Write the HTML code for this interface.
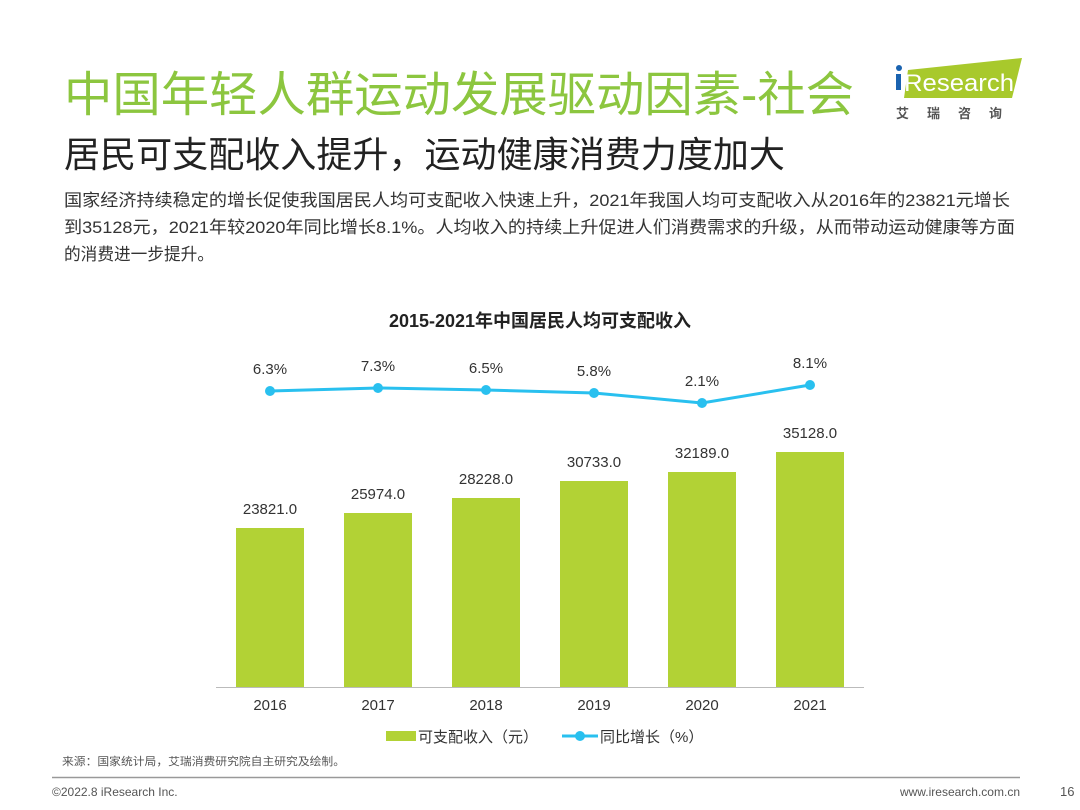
<!DOCTYPE html>
<html><head><meta charset="utf-8"><style>
body{margin:0;width:1080px;height:810px;background:#fff;overflow:hidden;font-family:"Liberation Sans","Noto Sans CJK SC",sans-serif;}
</style></head><body>
<svg width="1080" height="810" xmlns="http://www.w3.org/2000/svg" style="position:absolute;left:0;top:0">
<g font-family="Liberation Sans, Noto Sans CJK SC, sans-serif">
<text x="64" y="111" font-size="48" fill="#8cc63f" textLength="790" lengthAdjust="spacingAndGlyphs">中国年轻人群运动发展驱动因素-社会</text>
<text x="64" y="167" font-size="36" fill="#222" textLength="721" lengthAdjust="spacingAndGlyphs">居民可支配收入提升，运动健康消费力度加大</text>
<text x="64" y="206" font-size="17" fill="#333" textLength="946" lengthAdjust="spacingAndGlyphs">国家经济持续稳定的增长促使我国居民人均可支配收入快速上升，2021年我国人均可支配收入从2016年的23821元增长</text>
<text x="64" y="233" font-size="17" fill="#333" textLength="951" lengthAdjust="spacingAndGlyphs">到35128元，2021年较2020年同比增长8.1%。人均收入的持续上升促进人们消费需求的升级，从而带动运动健康等方面</text>
<text x="64" y="260" font-size="17" fill="#333" textLength="150" lengthAdjust="spacingAndGlyphs">的消费进一步提升。</text>
<polygon points="908,70 1022,58 1012,98 904,98" fill="#a8c92c"/>
<circle cx="899" cy="68" r="3" fill="#1a63b0"/>
<rect x="896" y="74" width="5" height="16" fill="#1a63b0"/>
<text x="904" y="91" font-size="24" fill="#fff" textLength="110" lengthAdjust="spacingAndGlyphs">Research</text>
<text x="896" y="118" font-size="13" fill="#555" letter-spacing="18" font-weight="bold">艾瑞咨询</text>
<text x="540" y="327" font-size="18" font-weight="bold" text-anchor="middle" fill="#222">2015-2021年中国居民人均可支配收入</text>
<g fill="#b2d235">
<rect x="236" y="528" width="68" height="159"/>
<rect x="344" y="513" width="68" height="174"/>
<rect x="452" y="498" width="68" height="189"/>
<rect x="560" y="481" width="68" height="206"/>
<rect x="668" y="472" width="68" height="215"/>
<rect x="776" y="452" width="68" height="235"/>
</g>
<line x1="216" y1="687.5" x2="864" y2="687.5" stroke="#bbb"/>
<g font-size="15" fill="#333" text-anchor="middle">
<text x="270" y="514">23821.0</text><text x="378" y="499">25974.0</text><text x="486" y="484">28228.0</text>
<text x="594" y="467">30733.0</text><text x="702" y="458">32189.0</text><text x="810" y="438">35128.0</text>
<text x="270" y="710">2016</text><text x="378" y="710">2017</text><text x="486" y="710">2018</text>
<text x="594" y="710">2019</text><text x="702" y="710">2020</text><text x="810" y="710">2021</text>
<text x="270" y="374">6.3%</text><text x="378" y="371">7.3%</text><text x="486" y="373">6.5%</text>
<text x="594" y="376">5.8%</text><text x="702" y="386">2.1%</text><text x="810" y="368">8.1%</text>
</g>
<polyline points="270,391 378,388 486,390 594,393 702,403 810,385" fill="none" stroke="#29c0ef" stroke-width="3"/>
<g fill="#29c0ef"><circle cx="270" cy="391" r="5"/><circle cx="378" cy="388" r="5"/><circle cx="486" cy="390" r="5"/><circle cx="594" cy="393" r="5"/><circle cx="702" cy="403" r="5"/><circle cx="810" cy="385" r="5"/></g>
<rect x="386" y="731" width="30" height="10" fill="#b2d235"/>
<text x="418" y="742" font-size="15" fill="#333">可支配收入（元）</text>
<line x1="562" y1="736" x2="598" y2="736" stroke="#29c0ef" stroke-width="3"/>
<circle cx="580" cy="736" r="5" fill="#29c0ef"/>
<text x="600" y="742" font-size="15" fill="#333">同比增长（%）</text>
<text x="62" y="765" font-size="11" fill="#555" textLength="283" lengthAdjust="spacingAndGlyphs">来源：国家统计局，艾瑞消费研究院自主研究及绘制。</text>
<line x1="52" y1="777.5" x2="1020" y2="777.5" stroke="#999" stroke-width="1.5"/>
<text x="52" y="796" font-size="12" fill="#555">©2022.8 iResearch Inc.</text>
<text x="1020" y="796" font-size="12" fill="#555" text-anchor="end">www.iresearch.com.cn</text>
<text x="1060" y="796" font-size="13" fill="#555">16</text>
</g>
</svg>
</body></html>
